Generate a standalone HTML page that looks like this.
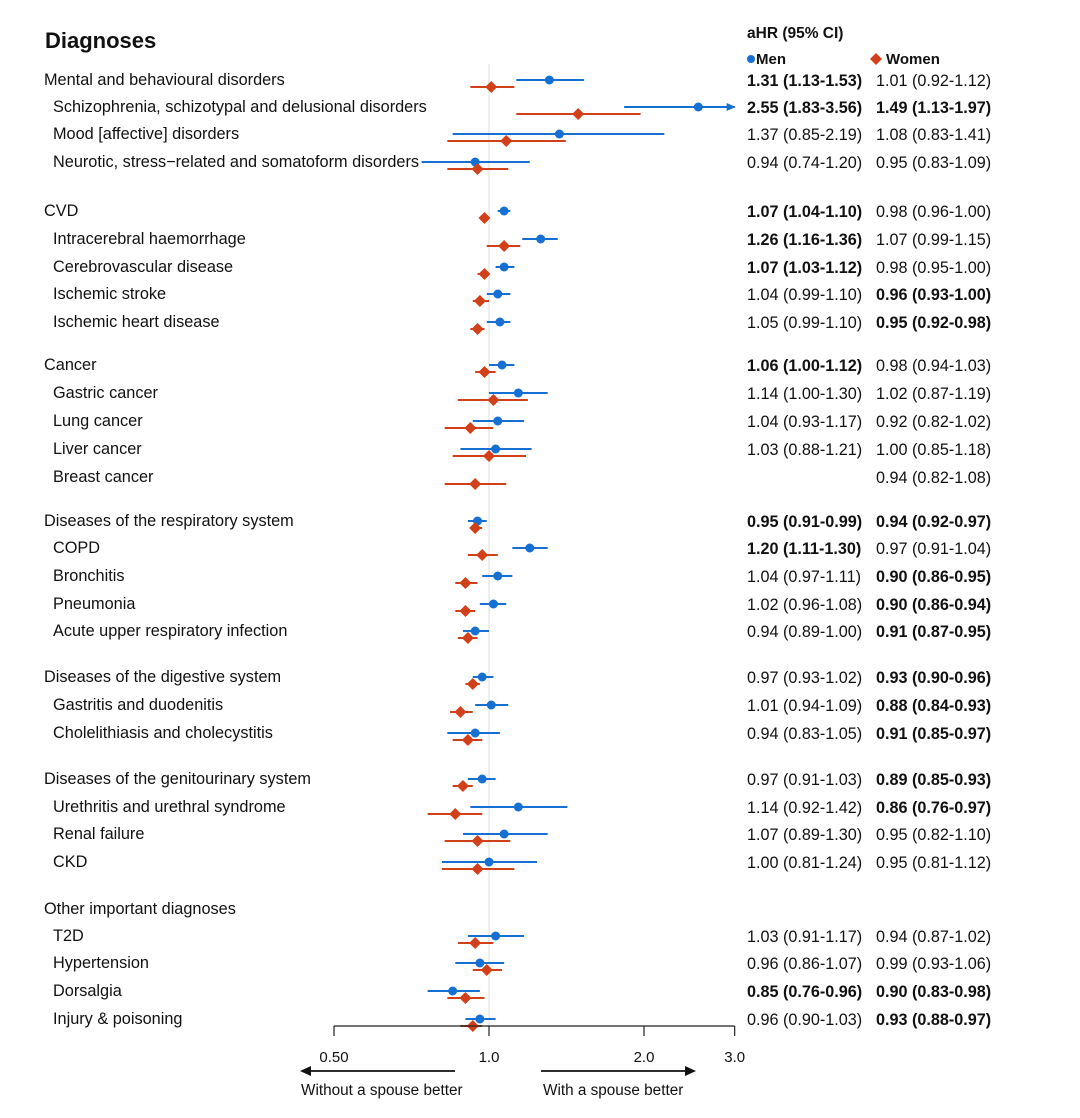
<!DOCTYPE html>
<html><head><meta charset="utf-8">
<style>
body{margin:0;background:#fff;}
svg{display:block;font-family:"Liberation Sans",Arial,sans-serif;}
</style></head>
<body>
<svg id="chart" width="1080" height="1118" viewBox="0 0 1080 1118" xmlns="http://www.w3.org/2000/svg">
<text x="45" y="48" font-size="22" font-weight="bold" fill="#111">Diagnoses</text>
<text x="747" y="38" font-size="15.5" font-weight="bold" fill="#111">aHR (95% CI)</text>
<g><circle cx="751" cy="59" r="4" fill="#1670d4"/><text x="756" y="64" font-size="15" font-weight="bold" fill="#111">Men</text></g>
<g><path d="M876 53 L882 59 L876 65 L870 59Z" fill="#d2401a"/><text x="886" y="64" font-size="15" font-weight="bold" fill="#111">Women</text></g>
<g id="plot"></g>
</svg>
<script>
const labels=["Mental and behavioural disorders","Schizophrenia, schizotypal and delusional disorders","Mood [affective] disorders","Neurotic, stress\u2212related and somatoform disorders","CVD","Intracerebral haemorrhage","Cerebrovascular disease","Ischemic stroke","Ischemic heart disease","Cancer","Gastric cancer","Lung cancer","Liver cancer","Breast cancer","Diseases of the respiratory system","COPD","Bronchitis","Pneumonia","Acute upper respiratory infection","Diseases of the digestive system","Gastritis and duodenitis","Cholelithiasis and cholecystitis","Diseases of the genitourinary system","Urethritis and urethral syndrome","Renal failure","CKD","Other important diagnoses","T2D","Hypertension","Dorsalgia","Injury & poisoning"];
const isHeader=[1,0,0,0,1,0,0,0,0,1,0,0,0,0,1,0,0,0,0,1,0,0,1,0,0,0,1,0,0,0,0];
const rowY=[79,106,133,161,210,238,266,293,321,364,392,420,448,476,520,547,575,603,630,676,704,732,778,806,833,861,908,935,962,990,1018];
const menHR=[1.31,2.55,1.37,0.94,1.07,1.26,1.07,1.04,1.05,1.06,1.14,1.04,1.03,null,0.95,1.20,1.04,1.02,0.94,0.97,1.01,0.94,0.97,1.14,1.07,1.00,null,1.03,0.96,0.85,0.96];
const menLo=[1.13,1.83,0.85,0.74,1.04,1.16,1.03,0.99,0.99,1.00,1.00,0.93,0.88,null,0.91,1.11,0.97,0.96,0.89,0.93,0.94,0.83,0.91,0.92,0.89,0.81,null,0.91,0.86,0.76,0.90];
const menHi=[1.53,3.56,2.19,1.20,1.10,1.36,1.12,1.10,1.10,1.12,1.30,1.17,1.21,null,0.99,1.30,1.11,1.08,1.00,1.02,1.09,1.05,1.03,1.42,1.30,1.24,null,1.17,1.07,0.96,1.03];
const wHR=[1.01,1.49,1.08,0.95,0.98,1.07,0.98,0.96,0.95,0.98,1.02,0.92,1.00,0.94,0.94,0.97,0.90,0.90,0.91,0.93,0.88,0.91,0.89,0.86,0.95,0.95,null,0.94,0.99,0.90,0.93];
const wLo=[0.92,1.13,0.83,0.83,0.96,0.99,0.95,0.93,0.92,0.94,0.87,0.82,0.85,0.82,0.92,0.91,0.86,0.86,0.87,0.90,0.84,0.85,0.85,0.76,0.82,0.81,null,0.87,0.93,0.83,0.88];
const wHi=[1.12,1.97,1.41,1.09,1.00,1.15,1.00,1.00,0.98,1.03,1.19,1.02,1.18,1.08,0.97,1.04,0.95,0.94,0.95,0.96,0.93,0.97,0.93,0.97,1.10,1.12,null,1.02,1.06,0.98,0.97];
const menBold=[1,1,0,0,1,1,1,0,0,1,0,0,0,0,1,1,0,0,0,0,0,0,0,0,0,0,0,0,0,1,0];
const wBold=[0,1,0,0,0,0,0,1,1,0,0,0,0,0,1,0,1,1,1,1,1,1,1,1,0,0,0,0,0,1,1];
const ticks=[0.5,1.0,2.0,3.0];
const tickLabels=["0.50","1.0","2.0","3.0"];

const NS="http://www.w3.org/2000/svg";
const g=document.getElementById('plot');
const X0=489,PX=155,XMAX=3.0;
function x(v){return X0+PX*Math.log2(v);}
function mk(tag,attrs,parent){const e=document.createElementNS(NS,tag);for(const k in attrs)e.setAttribute(k,attrs[k]);(parent||g).appendChild(e);return e;}
const BLUE="#1670d4",RED="#d2401a";
function fmt(a,b,c){return a.toFixed(2)+" ("+b.toFixed(2)+"-"+c.toFixed(2)+")";}

const ref=mk('line',{x1:x(1),x2:x(1),y1:64,y2:1026,stroke:"#ddd","stroke-width":1});



labels.forEach((lab,i)=>{
  const y=rowY[i];
  const t=mk('text',{x:isHeader[i]?44:53,y:y+6,"font-size":16.3,fill:"#111","font-weight":isHeader[i]?"500":"normal"});
  t.textContent=lab;
  
  
  if(menHR[i]!==null){
    const hi=Math.min(menHi[i],XMAX);
    const ln=mk('line',{x1:x(menLo[i]),x2:x(hi),y1:y+1,y2:y+1,stroke:BLUE,"stroke-width":2});
    
    
    if(menHi[i]>XMAX){
      const ar=mk('path',{d:`M${x(XMAX)+1} ${y+1} L${x(XMAX)-8} ${y-3} L${x(XMAX)-8} ${y+5}Z`,fill:BLUE});
      
      
    }
    const c=mk('circle',{cx:x(menHR[i]),cy:y+1,r:4.5,fill:BLUE});
    
    
    const tx=mk('text',{x:747,y:y+7,"font-size":16.2,fill:"#111","font-weight":menBold[i]?"bold":"normal"});
    tx.textContent=fmt(menHR[i],menLo[i],menHi[i]);
    
    
  }
  if(wHR[i]!==null){
    const wy=y+8;
    const ln=mk('line',{x1:x(wLo[i]),x2:x(Math.min(wHi[i],XMAX)),y1:wy,y2:wy,stroke:RED,"stroke-width":2});
    
    
    const cx=x(wHR[i]);
    const d=mk('path',{d:`M${cx} ${wy-6} L${cx+6} ${wy} L${cx} ${wy+6} L${cx-6} ${wy}Z`,fill:RED});
    
    
    const tx=mk('text',{x:876,y:y+7,"font-size":16.2,fill:"#111","font-weight":wBold[i]?"bold":"normal"});
    tx.textContent=fmt(wHR[i],wLo[i],wHi[i]);
    
    
  }
});

const ax=mk('line',{x1:x(ticks[0]),x2:x(ticks[ticks.length-1]),y1:1026,y2:1026,stroke:"#222","stroke-width":1.2});


ticks.forEach((v,i)=>{
  const tk=mk('line',{x1:x(v),x2:x(v),y1:1026,y2:1036,stroke:"#222","stroke-width":1.2});
  
  
  const tl=mk('text',{x:x(v),y:1062,"font-size":15,fill:"#111","text-anchor":"middle"});
  tl.textContent=tickLabels[i];
  
  
});
const la=mk('g',{});


mk('line',{x1:455,x2:306,y1:1071,y2:1071,stroke:"#111","stroke-width":1.8},la);
mk('path',{d:"M300 1071 L311 1066 L311 1076Z",fill:"#111"},la);
const ra=mk('g',{});


mk('line',{x1:541,x2:690,y1:1071,y2:1071,stroke:"#111","stroke-width":1.8},ra);
mk('path',{d:"M696 1071 L685 1066 L685 1076Z",fill:"#111"},ra);
const lt=mk('text',{x:301,y:1095,"font-size":15.3,fill:"#111"});
lt.textContent="Without a spouse better";


const rt=mk('text',{x:543,y:1095,"font-size":15.3,fill:"#111"});
rt.textContent="With a spouse better";


</script>
</body></html>
